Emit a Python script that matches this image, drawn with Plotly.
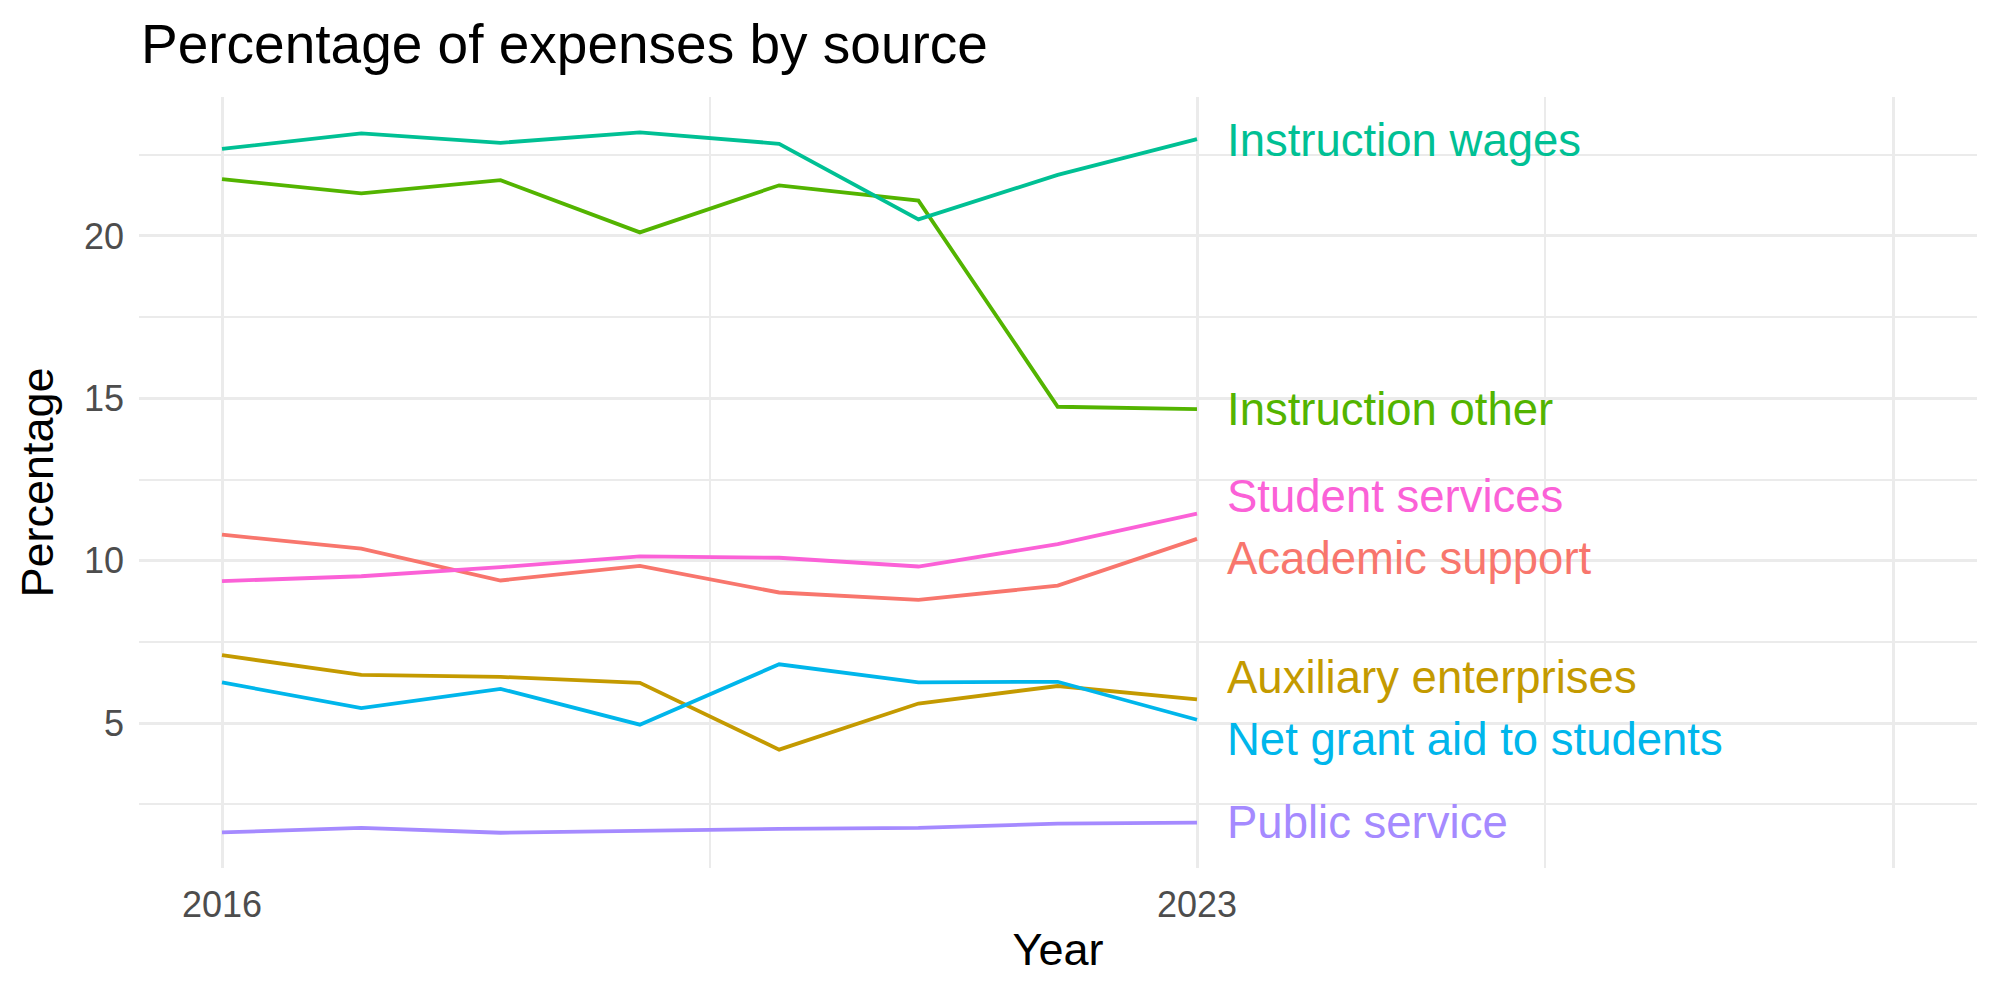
import plotly.graph_objects as go

years = [2016, 2017, 2018, 2019, 2020, 2021, 2022, 2023]

categories = [
    "Academic support",
    "Auxiliary enterprises",
    "Instruction other",
    "Instruction wages",
    "Net grant aid to students",
    "Public service",
    "Student services",
]

academic_support = [10.80, 10.37, 9.39, 9.84, 9.02, 8.79, 9.23, 10.67]
auxiliary_enterprises = [7.09, 6.48, 6.42, 6.24, 4.18, 5.60, 6.14, 5.73]
instruction_other = [21.75, 21.31, 21.72, 20.11, 21.56, 21.09, 14.74, 14.67]
instruction_wages = [22.68, 23.16, 22.87, 23.19, 22.84, 20.51, 21.88, 22.98]
net_grant_aid = [6.25, 5.46, 6.05, 4.95, 6.81, 6.25, 6.27, 5.10]
public_service = [1.63, 1.77, 1.62, 1.68, 1.74, 1.77, 1.90, 1.93]
student_services = [9.37, 9.52, 9.80, 10.13, 10.09, 9.82, 10.51, 11.45]

series = [academic_support, auxiliary_enterprises, instruction_other,
          instruction_wages, net_grant_aid, public_service, student_services]

# label y positions (repelled end labels, in data units)
label_y = [10.06, 6.41, 14.67, 22.95, 4.49, 1.95, 11.99]

colors = ["#F8766D", "#C49A00", "#53B400", "#00C094", "#00B6EB", "#A58AFF", "#FB61D7"]

x_tick_vals = [2016, 2023, 2028]
x_tick_text = ["2016", "2023", ""]
x_minor_vals = [2019.5, 2025.5]
y_tick_vals = [5, 10, 15, 20]
y_minor_vals = [2.5, 7.5, 12.5, 17.5, 22.5]

FONT = "Liberation Sans, Arial, Helvetica, sans-serif"

fig = go.Figure()
for name, vals, col in zip(categories, series, colors):
    fig.add_trace(go.Scatter(
        x=years, y=vals, mode="lines", name=name,
        line=dict(color=col, width=3.8),
        showlegend=False, hoverinfo="skip",
    ))

for name, ly, col in zip(categories, label_y, colors):
    fig.add_annotation(
        x=years[-1], y=ly, xref="x", yref="y",
        text=name, showarrow=False,
        xanchor="left", yanchor="middle", xshift=28,
        font=dict(family=FONT, size=45.5, color=col),
    )

fig.update_layout(
    width=2000, height=1000,
    margin=dict(l=139, r=23, t=97, b=132),
    paper_bgcolor="white", plot_bgcolor="white",
    title=dict(
        text="Percentage of expenses by source",
        font=dict(family=FONT, size=55, color="black"),
        x=141 / 2000, xanchor="left", xref="container",
        y=1 - 44 / 1000, yanchor="middle", yref="container",
    ),
    font=dict(family=FONT),
)

fig.update_xaxes(
    range=[2015.404, 2028.6],
    tickmode="array", tickvals=x_tick_vals, ticktext=x_tick_text,
    showgrid=True, gridcolor="#EBEBEB", gridwidth=3.2,
    minor=dict(tickmode="array", tickvals=x_minor_vals, showgrid=True,
               gridcolor="#EBEBEB", gridwidth=1.6),
    zeroline=False, showline=False, ticks="",
    tickfont=dict(family=FONT, size=36, color="#4D4D4D"),
    ticklabelstandoff=12,
    title=dict(text="Year", font=dict(family=FONT, size=45, color="black"), standoff=9),
)

fig.update_yaxes(
    range=[0.535, 24.28],
    tickmode="array", tickvals=y_tick_vals,
    showgrid=True, gridcolor="#EBEBEB", gridwidth=3.2,
    minor=dict(tickmode="array", tickvals=y_minor_vals, showgrid=True,
               gridcolor="#EBEBEB", gridwidth=1.6),
    zeroline=False, showline=False, ticks="",
    tickfont=dict(family=FONT, size=36, color="#4D4D4D"),
    ticklabelstandoff=14,
    title=dict(text="Percentage", font=dict(family=FONT, size=45, color="black"), standoff=16),
)

fig.write_html("out.html")
